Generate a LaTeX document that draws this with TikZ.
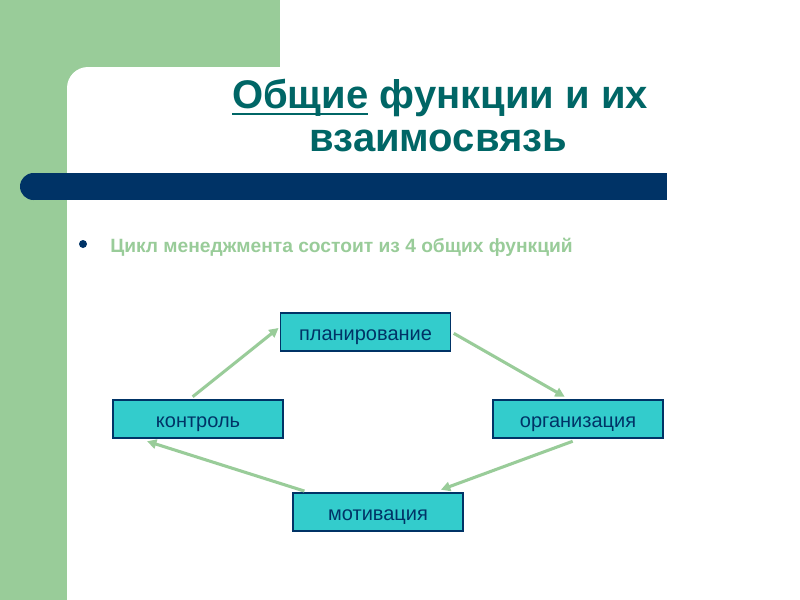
\documentclass[tikz,border=0pt]{standalone}
\usepackage{fontspec}
\setmainfont{Liberation Sans}
\usetikzlibrary{arrows.meta}
\definecolor{bandgreen}{HTML}{99CC99}
\definecolor{barblue}{HTML}{003366}
\definecolor{titleteal}{HTML}{006666}
\definecolor{boxcyan}{HTML}{33CCCC}
\newcommand\titleul[1]{\setbox0\hbox{#1}\rlap{\rule[-5.25pt]{\wd0}{1.5pt}}\box0\relax}
\tikzset{
  func/.style={draw=barblue,fill=boxcyan,line width=0.9pt,minimum width=127.5pt,
    minimum height=28.5pt,inner sep=0pt,text height=13pt,text depth=0pt,
    text=barblue,font=\fontsize{15}{18}\selectfont},
  link/.style={draw=bandgreen,line width=2.3pt,-{Triangle[length=7pt,width=7pt]}},
  headline/.style={anchor=base,text=titleteal,font=\bfseries\fontsize{30}{32}\selectfont}
}
\begin{document}
\begin{tikzpicture}[x=0.75pt,y=-0.75pt]
  \useasboundingbox (0,0) rectangle (800,600);
  \fill[white] (0,0) rectangle (800,600);
  \fill[bandgreen] (0,0) rectangle (280,67);
  \fill[bandgreen] (0,0) rectangle (67,600);
  \fill[bandgreen] (67,67) rectangle (88,88);
  \fill[white] (88,88) circle[radius=21];
  \fill[barblue] (33.5,186.5) circle[radius=13.5];
  \fill[barblue] (33.5,173) rectangle (667,200);
  \node[headline] (title) at (440,108) {\titleul{Общие} функции и их};
  \node[headline] (titlesub) at (438,151) {взаимосвязь};
  \fill[barblue] (83,244) circle[radius=4];
  \node[anchor=base west,inner sep=0pt,text=bandgreen,font=\bfseries\fontsize{14.4}{17}\selectfont] (cycle) at (110,252) {Цикл менеджмента состоит из 4 общих функций};
  \node[func] (plan) at (365.5,332) {планирование};
  \node[func] (kontrol) at (198,419) {контроль};
  \node[func] (org) at (578,419) {организация};
  \node[func] (motiv) at (378,512) {мотивация};
  \draw[link] ([yshift=2pt,xshift=-4pt]kontrol.north) -- ([xshift=-1pt,yshift=3pt]plan.west);
  \draw[link] ([xshift=2pt,yshift=-1pt]plan.east) -- ([xshift=-10pt,yshift=2pt]org.north);
  \draw[link] ([xshift=-4pt,yshift=-2pt]org.south) -- ([xshift=-17pt,yshift=2pt]motiv.north east);
  \draw[link] ([xshift=9pt,yshift=1pt]motiv.north west) -- ([xshift=26pt,yshift=-2pt]kontrol.south west);
\end{tikzpicture}
\end{document}
